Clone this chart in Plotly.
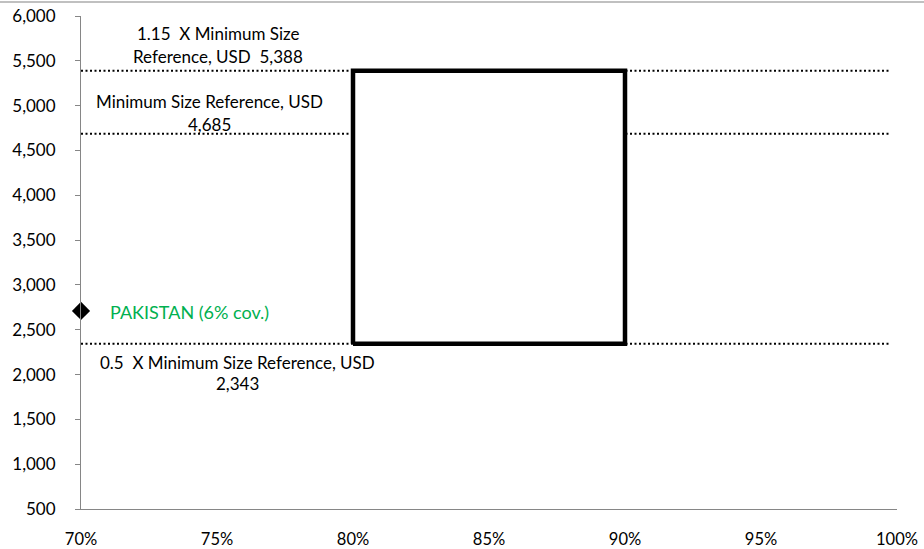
import plotly.graph_objects as go

# --- data ---
coverage_range = [0.80, 0.90]           # box x extent (coverage)
min_ref = 4685
upper_ref = 5388                         # 1.15 x min
lower_ref = 2343                         # 0.5 x min
ref_labels = ["1.15  X Minimum Size", "Reference, USD  5,388",
              "Minimum Size Reference, USD", "4,685",
              "0.5  X Minimum Size Reference, USD", "2,343"]
country = "PAKISTAN (6% cov.)"
country_x = [0.70]
country_y = [2710]
x_ticks = [0.70, 0.75, 0.80, 0.85, 0.90, 0.95, 1.00]
x_ticktext = ["70%", "75%", "80%", "85%", "90%", "95%", "100%"]
y_ticks = [500, 1000, 1500, 2000, 2500, 3000, 3500, 4000, 4500, 5000, 5500, 6000]

FONT = "Lato"
fig = go.Figure()

# dotted reference lines
for val in [upper_ref, min_ref, lower_ref]:
    fig.add_trace(go.Scatter(x=[0.70, 0.997], y=[val, val], mode="lines",
                             line=dict(color="black", width=2, dash="2px,2.5px"),
                             hoverinfo="skip", showlegend=False))

# box
bx = [coverage_range[0], coverage_range[1], coverage_range[1], coverage_range[0], coverage_range[0]]
by = [lower_ref, lower_ref, upper_ref, upper_ref, lower_ref]
fig.add_trace(go.Scatter(x=bx, y=by, mode="lines", fill="toself", fillcolor="white",
                         line=dict(color="black", width=4.5), showlegend=False))

# country marker
fig.add_trace(go.Scatter(x=country_x, y=country_y, mode="markers",
                         marker=dict(symbol="diamond", size=14, color="black"),
                         cliponaxis=False, showlegend=False))

# annotations (each line separately)
def ann(text, x, y, color="black", xanchor="center", size=17):
    fig.add_annotation(x=x, y=y, xref="x", yref="y", text=text, showarrow=False,
                       xanchor=xanchor, yanchor="middle",
                       font=dict(family=FONT, size=size, color=color))

ann(ref_labels[0], 0.7505, 6000 - (33 - 16) / 44.82 * 500)
ann(ref_labels[1], 0.7505, 6000 - (56 - 16) / 44.82 * 500)
ann(ref_labels[2], 0.7474, 6000 - (101 - 16) / 44.82 * 500)
ann(ref_labels[3], 0.7474, 6000 - (124 - 16) / 44.82 * 500)
ann(ref_labels[4], 0.7577, 6000 - (363 - 16) / 44.82 * 500)
ann(ref_labels[5], 0.7577, 6000 - (384 - 16) / 44.82 * 500)
ann(country, 0.7099, 6000 - (312 - 16) / 44.82 * 500, color="#00B050", xanchor="left", size=18)

# top border line
fig.add_shape(type="line", xref="paper", yref="paper", x0=-0.1, x1=1.04, y0=1.0284, y1=1.0284,
              line=dict(color="#C0C0C0", width=2))

fig.update_layout(
    width=924, height=549,
    margin=dict(l=81, r=27, t=16, b=40),
    paper_bgcolor="white", plot_bgcolor="white",
    font=dict(family=FONT, size=17, color="black"),
    xaxis=dict(range=[0.70, 1.00], tickvals=x_ticks, ticktext=x_ticktext, automargin=False,
               showgrid=False, zeroline=False, showline=True, linecolor="#868686", linewidth=1,
               ticks="", ticklabelstandoff=15, tickfont=dict(size=16.5)),
    yaxis=dict(range=[500, 6000], tickvals=y_ticks, tickformat=",d", automargin=False,
               showgrid=False, zeroline=False, showline=True, linecolor="#868686", linewidth=1,
               ticks="outside", ticklen=5, tickcolor="#868686", ticklabelstandoff=16,
               tickfont=dict(size=17)),
)

fig.write_html("out.html")
